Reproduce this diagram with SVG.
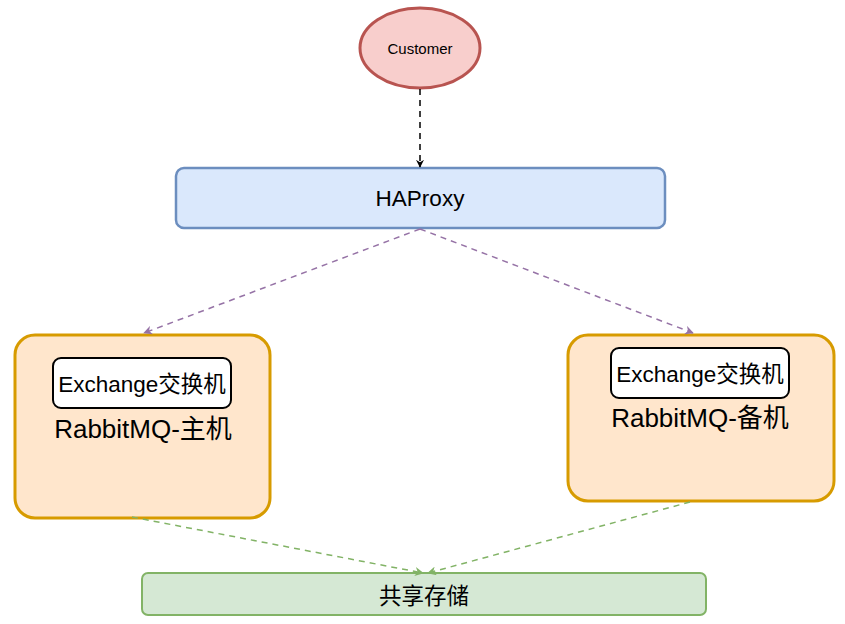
<svg xmlns="http://www.w3.org/2000/svg" width="845" height="624" viewBox="0 0 845 624">
<style>
text{font-family:"Liberation Sans","Noto Sans CJK SC",sans-serif;fill:#000;text-anchor:middle;dominant-baseline:central}
.orange{fill:#ffe6cc;stroke:#d79b00;stroke-width:3}
.inner{fill:#fff;stroke:#000;stroke-width:2}
.edge{fill:none;stroke-width:1.5;stroke-dasharray:6 5}
</style>
<defs>
<marker id="ab" viewBox="0 0 10 10" refX="9" refY="5" markerWidth="8" markerHeight="8" orient="auto" markerUnits="userSpaceOnUse"><path d="M0,0 L10,5 L0,10 L3,5 Z" fill="#000"/></marker>
<marker id="ap" viewBox="0 0 10 10" refX="9" refY="5" markerWidth="9" markerHeight="9" orient="auto" markerUnits="userSpaceOnUse"><path d="M0,0 L10,5 L0,10 L3,5 Z" fill="#9673a6"/></marker>
<marker id="ag" viewBox="0 0 10 10" refX="9" refY="5" markerWidth="9" markerHeight="9" orient="auto" markerUnits="userSpaceOnUse"><path d="M0,0 L10,5 L0,10 L3,5 Z" fill="#82b366"/></marker>
</defs>
<g id="customer">
<ellipse cx="420" cy="48" rx="60" ry="40" fill="#f8cecc" stroke="#b85450" stroke-width="3"/>
<text x="420" y="48" font-size="15">Customer</text>
</g>
<g id="haproxy">
<rect x="176" y="168" width="489" height="60" rx="8" fill="#dae8fc" stroke="#6c8ebf" stroke-width="2.5"/>
<text x="420" y="198" font-size="22.5">HAProxy</text>
</g>
<g id="rabbit-master">
<rect class="orange" x="15" y="335" width="255" height="183" rx="20"/>
<rect class="inner" x="53" y="358" width="178" height="50" rx="8"/>
<text x="142" y="384" font-size="22.5">Exchange交换机</text>
<text x="143" y="429" font-size="26">RabbitMQ-主机</text>
</g>
<g id="rabbit-backup">
<rect class="orange" x="568" y="335" width="266" height="166" rx="20"/>
<rect class="inner" x="611" y="348" width="178" height="50" rx="8"/>
<text x="700" y="374" font-size="22.5">Exchange交换机</text>
<text x="700" y="418" font-size="26">RabbitMQ-备机</text>
</g>
<g id="storage">
<rect x="142" y="573" width="564" height="42" rx="6" fill="#d5e8d4" stroke="#82b366" stroke-width="2"/>
<text x="424" y="596" font-size="22.5">共享存储</text>
</g>
<g id="connectors">
<line class="edge" x1="420" y1="89" x2="420" y2="167" stroke="#000" marker-end="url(#ab)"/>
<line class="edge" x1="420" y1="229" x2="144" y2="333" stroke="#9673a6" marker-end="url(#ap)"/>
<line class="edge" x1="420" y1="229" x2="693" y2="333" stroke="#9673a6" marker-end="url(#ap)"/>
<line class="edge" x1="132" y1="517" x2="423" y2="573" stroke="#82b366" marker-end="url(#ag)"/>
<line class="edge" x1="690" y1="502" x2="428" y2="573" stroke="#82b366" marker-end="url(#ag)"/>
</g>
</svg>
